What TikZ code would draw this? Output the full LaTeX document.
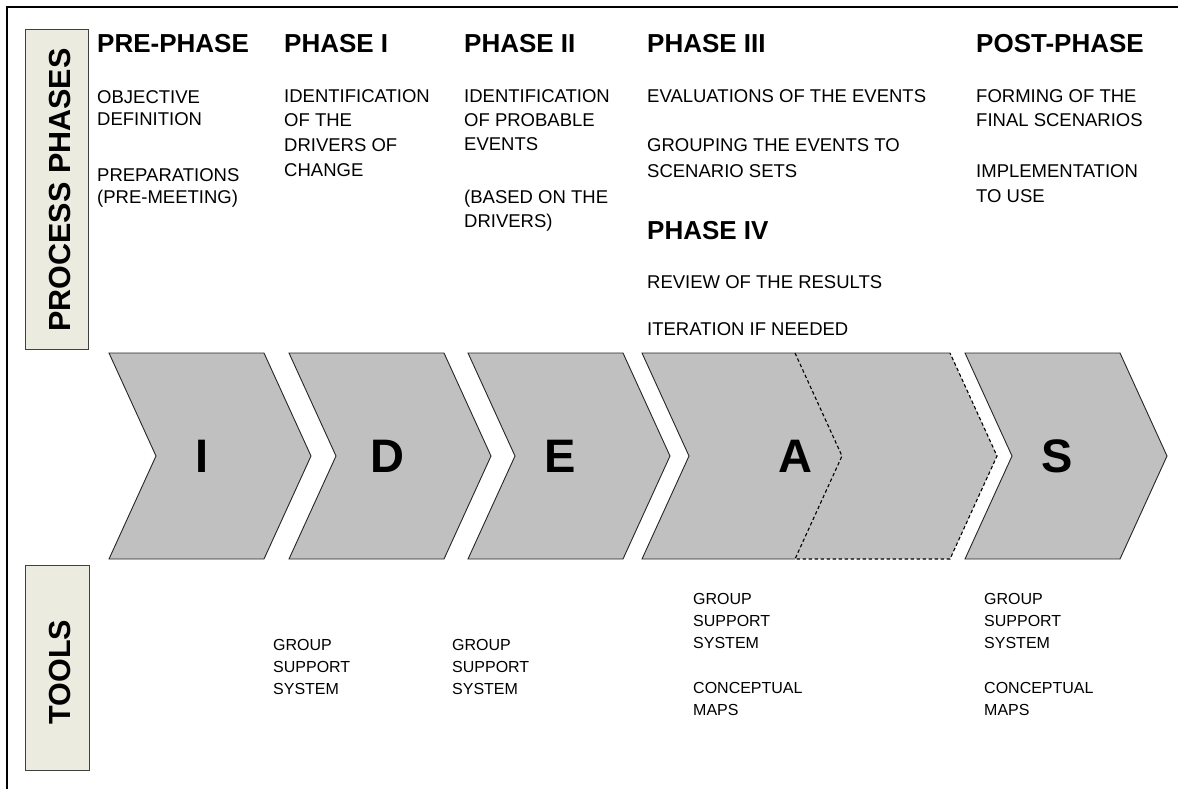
\documentclass[tikz,border=0pt]{standalone}
\usepackage{fontspec}
\setmainfont{Liberation Sans}
\definecolor{boxfill}{RGB}{236,235,224}
\definecolor{chevgray}{RGB}{192,192,192}
\begin{document}
\begin{tikzpicture}[x=1pt,y=-1pt,
  head/.style={anchor=base west, inner sep=0pt, font=\fontsize{26}{30}\selectfont\bfseries},
  body/.style={anchor=base west, inner sep=0pt, font=\fontsize{18.5}{22}\selectfont},
  tool/.style={anchor=base west, inner sep=0pt, font=\fontsize{16}{20}\selectfont},
  sidebox/.style={draw=black!75, fill=boxfill, line width=0.9pt, inner sep=0pt},
  sidelabel/.style={rotate=90, inner sep=0pt, font=\fontsize{30.5}{34}\selectfont\bfseries},
  chevline/.style={draw=black!85, line width=0.9pt, line join=miter},
  chevdash/.style={draw=black, line width=1.1pt, dash pattern=on 3.5pt off 2.5pt},
  letter/.style={anchor=base, inner sep=0pt, font=\fontsize{47}{50}\selectfont\bfseries},
  chevron/.pic={\path[fill=chevgray, chevline] (0,0) -- (155,0) -- (202,103) -- (155,206) -- (0,206) -- (47,103) -- cycle;}
]
\useasboundingbox (0,0) rectangle (1178,789);

% outer frame (top and left edges)
\draw[line width=2.2pt, line cap=rect] (7,789) -- (7,7) -- (1178,7);

% side labels
\node[sidebox, minimum width=63pt, minimum height=320pt] (procbox) at (56.5,189) {};
\node[sidelabel] (proclabel) at (59.5,190) {PROCESS PHASES};
\node[sidebox, minimum width=64pt, minimum height=205pt] (toolbox) at (57,667.5) {};
\node[sidelabel] (toollabel) at (59.5,672) {TOOLS};

% chevrons
\pic at (109,353) {chevron};
\pic at (289,353) {chevron};
\pic at (468,353) {chevron};
\pic at (965,353) {chevron};
% phase III chevron and dashed phase IV chevron
\fill[chevgray] (642,353) -- (795,353) -- (842,456) -- (795,559) -- (642,559) -- (689,456) -- cycle;
\fill[chevgray] (795,353) -- (950,353) -- (997,456) -- (950,559) -- (795,559) -- (842,456) -- cycle;
\draw[chevline] (795,559) -- (642,559) -- (689,456) -- (642,353) -- (950,353);
\draw[chevdash] (795,353) -- (842,456) -- (795,559) -- (950,559) -- (997,456) -- (950,353);

\node[letter] (lI) at (202,472) {I};
\node[letter] (lD) at (387,472) {D};
\node[letter] (lE) at (560,472) {E};
\node[letter] (lA) at (795,472) {A};
\node[letter] (lS) at (1057,472) {S};

% phase headings
\node[head] (hpre) at (97,53) {PRE-PHASE};
\node[head] (hone) at (284,53) {PHASE I};
\node[head] (htwo) at (464,53) {PHASE II};
\node[head] (hthree) at (647,53) {PHASE III};
\node[head] (hfour) at (647,239) {PHASE IV};
\node[head] (hpost) at (976,53) {POST-PHASE};

% pre-phase
\node[body] (pa) at (97,104) {OBJECTIVE};
\node[body] (pb) at (97,126) {DEFINITION};
\node[body] (pc) at (97,182) {PREPARATIONS};
\node[body] (pd) at (97,204) {(PRE-MEETING)};
% phase I
\node[body] (oa) at (284,103) {IDENTIFICATION};
\node[body] (ob) at (284,127) {OF THE};
\node[body] (oc) at (284,151) {DRIVERS OF};
\node[body] (od) at (284,176) {CHANGE};
% phase II
\node[body] (ta) at (464,103) {IDENTIFICATION};
\node[body] (tb) at (464,127) {OF PROBABLE};
\node[body] (tc) at (464,150) {EVENTS};
\node[body] (td) at (464,203) {(BASED ON THE};
\node[body] (te) at (464,227) {DRIVERS)};
% phase III and IV
\node[body] (ra) at (647,103) {EVALUATIONS OF THE EVENTS};
\node[body] (rb) at (647,152) {GROUPING THE EVENTS TO};
\node[body] (rc) at (647,177) {SCENARIO SETS};
\node[body] (fa) at (647,288) {REVIEW OF THE RESULTS};
\node[body] (fb) at (647,335) {ITERATION IF NEEDED};
% post-phase
\node[body] (sa) at (976,103) {FORMING OF THE};
\node[body] (sb) at (976,127) {FINAL SCENARIOS};
\node[body] (sc) at (976,178) {IMPLEMENTATION};
\node[body] (sd) at (976,202) {TO USE};

% tools
\node[tool] (ua) at (273,650) {GROUP};
\node[tool] (ub) at (273,672) {SUPPORT};
\node[tool] (uc) at (273,694) {SYSTEM};
\node[tool] (va) at (452,650) {GROUP};
\node[tool] (vb) at (452,672) {SUPPORT};
\node[tool] (vc) at (452,694) {SYSTEM};
\node[tool] (wa) at (693,604) {GROUP};
\node[tool] (wb) at (693,626) {SUPPORT};
\node[tool] (wc) at (693,648) {SYSTEM};
\node[tool] (wd) at (693,693) {CONCEPTUAL};
\node[tool] (we) at (693,715) {MAPS};
\node[tool] (xa) at (984,604) {GROUP};
\node[tool] (xb) at (984,626) {SUPPORT};
\node[tool] (xc) at (984,648) {SYSTEM};
\node[tool] (xd) at (984,693) {CONCEPTUAL};
\node[tool] (xe) at (984,715) {MAPS};
\end{tikzpicture}
\end{document}
